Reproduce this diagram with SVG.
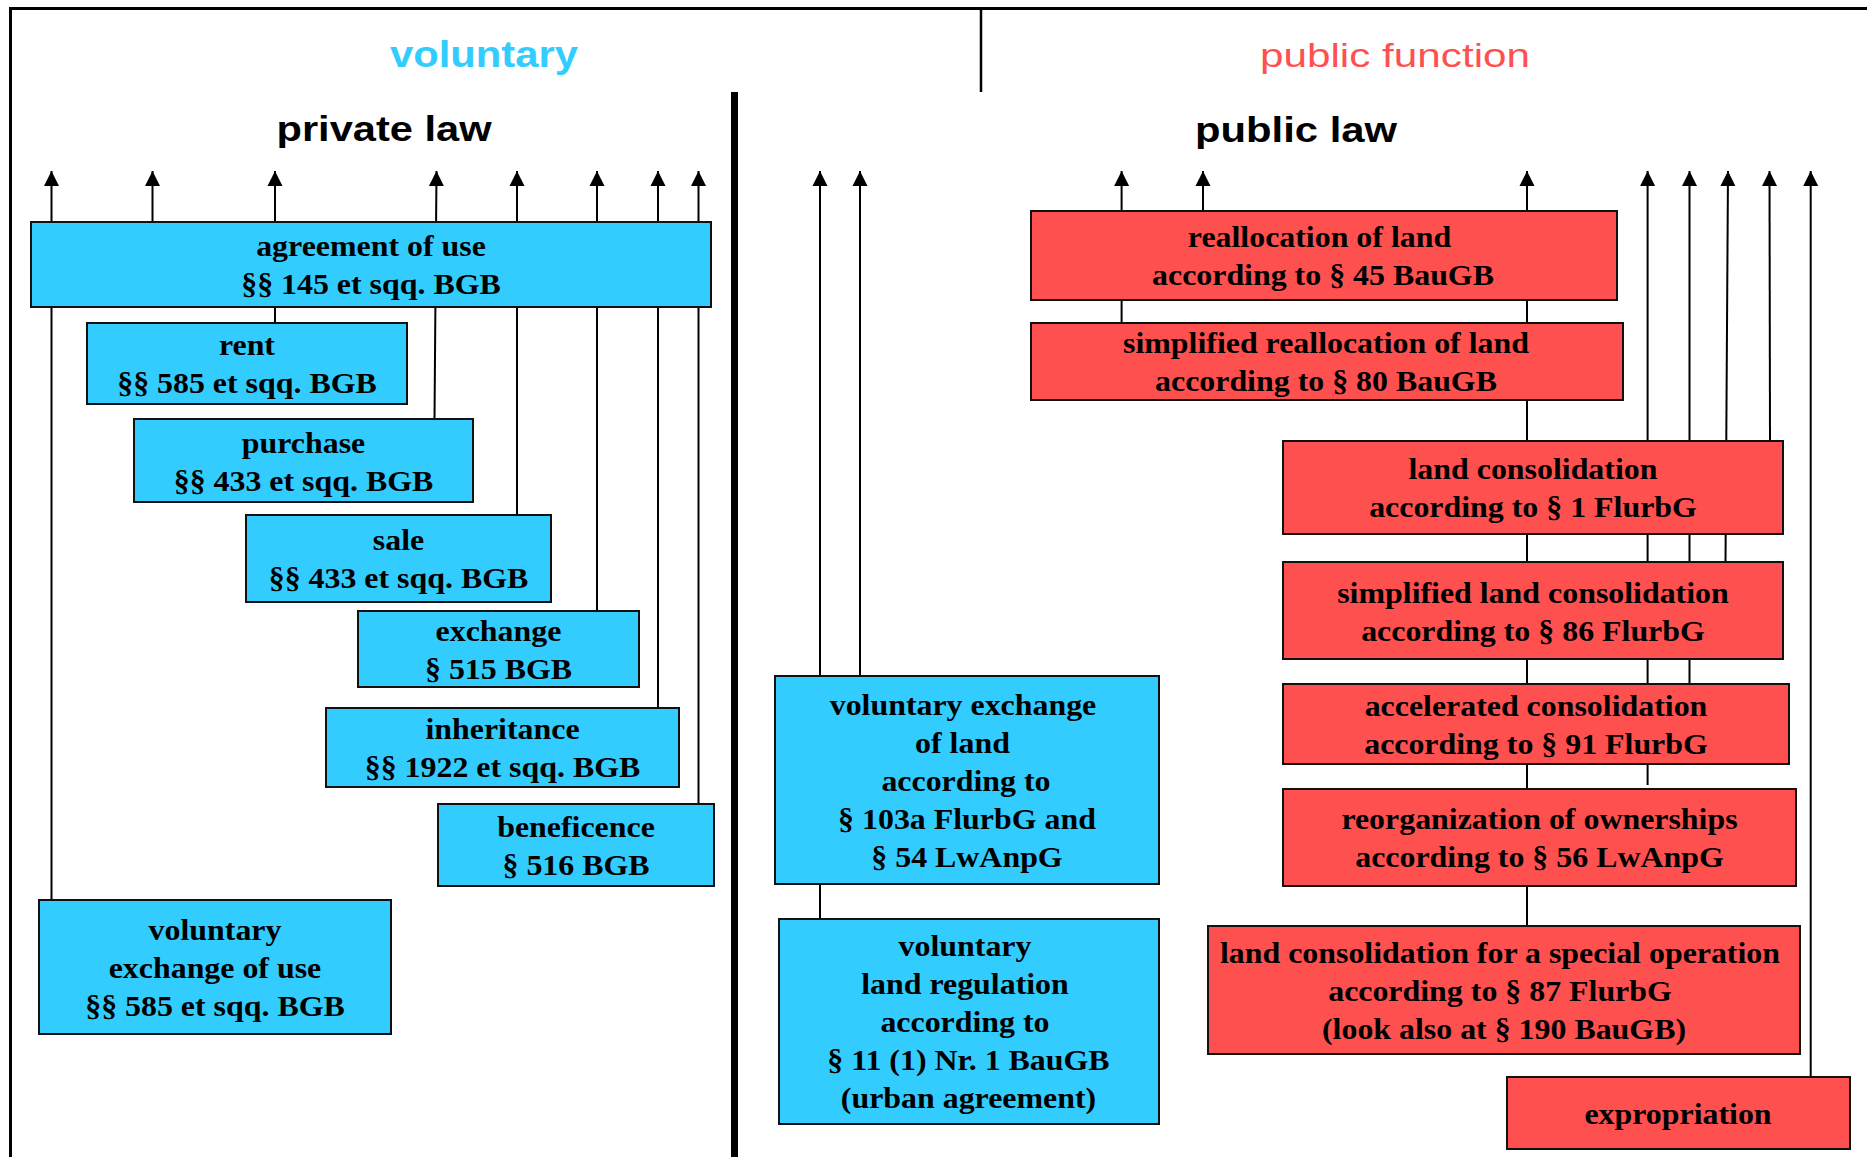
<svg xmlns="http://www.w3.org/2000/svg" width="1867" height="1157" viewBox="0 0 1867 1157">
<style>
.bg{fill:#ffffff}
.frame{fill:none;stroke:#000;stroke-width:3}
.div{fill:none;stroke:#000;stroke-width:2.5}
.thick{fill:none;stroke:#000;stroke-width:7}
.c{fill:none;stroke:#000;stroke-width:2;marker-end:url(#arr)}
.s{fill:none;stroke:#000;stroke-width:2}
.blue rect{fill:#33CCFF;stroke:#111;stroke-width:2}
.red rect{fill:#FF5050;stroke:#111;stroke-width:2}
.node text{font-family:"Liberation Serif","Times New Roman",serif;font-weight:bold;font-size:29px;text-anchor:middle;fill:#000;transform-box:fill-box;transform-origin:center;transform:scaleX(1.1)}
.title{font-family:"Liberation Sans",Arial,sans-serif;text-anchor:middle}
</style>
<defs>
<marker id="arr" markerUnits="userSpaceOnUse" markerWidth="16" markerHeight="16" viewBox="0 0 16 16" refX="15" refY="8" orient="auto">
<path d="M0,0.5 L15,8 L0,15.5 z" fill="#000"/>
</marker>
</defs>
<rect class="bg" x="0" y="0" width="1867" height="1157"/>
<g id="frame">
<path class="frame" d="M10.5,1157 V8.5 H1867"/>
<path class="div" d="M981,8.5 V92"/>
<path class="thick" d="M734.5,92 V1157"/>
</g>
<g id="titles">
<text class="title" x="484" y="66.7" font-size="36" font-weight="bold" fill="#33CCFF" textLength="188" lengthAdjust="spacingAndGlyphs">voluntary</text>
<text class="title" x="1395" y="67" font-size="34" fill="#FF5050" textLength="270" lengthAdjust="spacingAndGlyphs">public function</text>
<text class="title" x="384" y="141" font-size="35" font-weight="bold" fill="#000" textLength="215" lengthAdjust="spacingAndGlyphs">private law</text>
<text class="title" x="1296" y="141.5" font-size="35" font-weight="bold" fill="#000" textLength="202" lengthAdjust="spacingAndGlyphs">public law</text>
</g>
<g id="connectors">
<line class="c" x1="51.5" y1="900" x2="51.5" y2="171"/>
<line class="c" x1="152.5" y1="222" x2="152.5" y2="171"/>
<line class="c" x1="275" y1="323" x2="275" y2="171"/>
<line class="c" x1="434.5" y1="419" x2="436.5" y2="171"/>
<line class="c" x1="517" y1="515" x2="517" y2="171"/>
<line class="c" x1="597" y1="611" x2="597" y2="171"/>
<line class="c" x1="658" y1="708" x2="658" y2="171"/>
<line class="c" x1="698.5" y1="804" x2="698.5" y2="171"/>
<line class="c" x1="820" y1="919" x2="820" y2="171"/>
<line class="c" x1="860" y1="676" x2="860" y2="171"/>
<line class="c" x1="1121.6" y1="323" x2="1121.6" y2="171"/>
<line class="c" x1="1203" y1="211" x2="1203" y2="171"/>
<line class="c" x1="1527" y1="926" x2="1527" y2="171"/>
<line class="c" x1="1647.6" y1="785" x2="1647.6" y2="171"/>
<line class="c" x1="1689.5" y1="684" x2="1689.5" y2="171"/>
<line class="c" x1="1725.5" y1="562" x2="1728" y2="171"/>
<line class="c" x1="1770" y1="441" x2="1769.5" y2="171"/>
<line class="c" x1="1810.7" y1="1077" x2="1810.7" y2="171"/>
</g>
<g id="n-agreement" class="node blue">
<rect x="31" y="222" width="680" height="85"/>
<text x="371" y="256.5">agreement of use</text>
<text x="371" y="294.5">§§ 145 et sqq. BGB</text>
</g>
<g id="n-rent" class="node blue">
<rect x="87" y="323" width="320" height="81"/>
<text x="247" y="355.5">rent</text>
<text x="247" y="393.5">§§ 585 et sqq. BGB</text>
</g>
<g id="n-purchase" class="node blue">
<rect x="134" y="419" width="339" height="83"/>
<text x="303.5" y="453">purchase</text>
<text x="303.5" y="491">§§ 433 et sqq. BGB</text>
</g>
<g id="n-sale" class="node blue">
<rect x="246" y="515" width="305" height="87"/>
<text x="398.5" y="550.5">sale</text>
<text x="398.5" y="588.5">§§ 433 et sqq. BGB</text>
</g>
<g id="n-exchange" class="node blue">
<rect x="358" y="611" width="281" height="76"/>
<text x="498.5" y="641">exchange</text>
<text x="498.5" y="679">§ 515 BGB</text>
</g>
<g id="n-inheritance" class="node blue">
<rect x="326" y="708" width="353" height="79"/>
<text x="502.5" y="739.5">inheritance</text>
<text x="502.5" y="777.5">§§ 1922 et sqq. BGB</text>
</g>
<g id="n-beneficence" class="node blue">
<rect x="438" y="804" width="276" height="82"/>
<text x="576" y="837">beneficence</text>
<text x="576" y="875">§ 516 BGB</text>
</g>
<g id="n-vol-exchange-use" class="node blue">
<rect x="39" y="900" width="352" height="134"/>
<text x="215" y="940">voluntary</text>
<text x="215" y="978">exchange of use</text>
<text x="215" y="1016">§§ 585 et sqq. BGB</text>
</g>
<g id="n-vol-exchange-land" class="node blue">
<rect x="775" y="676" width="384" height="208"/>
<text x="963" y="715">voluntary exchange</text>
<text x="962.5" y="753">of land</text>
<text x="966" y="791">according to</text>
<text x="967" y="829">§ 103a FlurbG and</text>
<text x="967" y="867">§ 54 LwAnpG</text>
</g>
<g id="n-vol-land-regulation" class="node blue">
<rect x="779" y="919" width="380" height="205"/>
<text x="965" y="956.5">voluntary</text>
<text x="965" y="994.5">land regulation</text>
<text x="965" y="1032.5">according to</text>
<text x="968.5" y="1070.5">§ 11 (1) Nr. 1 BauGB</text>
<text x="968.5" y="1108.5">(urban agreement)</text>
</g>
<g id="n-reallocation" class="node red">
<rect x="1031" y="211" width="586" height="89"/>
<text x="1319.5" y="247.5">reallocation of land</text>
<text x="1323" y="285.5">according to § 45 BauGB</text>
</g>
<g id="n-simplified-reallocation" class="node red">
<rect x="1031" y="323" width="592" height="77"/>
<text x="1326" y="353.5">simplified reallocation of land</text>
<text x="1326" y="391.5">according to § 80 BauGB</text>
</g>
<g id="n-land-consolidation" class="node red">
<rect x="1283" y="441" width="500" height="93"/>
<text x="1533" y="479.5">land consolidation</text>
<text x="1533" y="517.5">according to § 1 FlurbG</text>
</g>
<g id="n-simplified-land-consolidation" class="node red">
<rect x="1283" y="562" width="500" height="97"/>
<text x="1533" y="603">simplified land consolidation</text>
<text x="1533" y="641">according to § 86 FlurbG</text>
</g>
<g id="n-accelerated" class="node red">
<rect x="1283" y="684" width="506" height="80"/>
<text x="1536" y="716">accelerated consolidation</text>
<text x="1536" y="754">according to § 91 FlurbG</text>
</g>
<g id="n-reorganization" class="node red">
<rect x="1283" y="789" width="513" height="97"/>
<text x="1539.5" y="829.5">reorganization of ownerships</text>
<text x="1539.5" y="867.5">according to § 56 LwAnpG</text>
</g>
<g id="n-special-operation" class="node red">
<rect x="1208" y="926" width="592" height="128"/>
<text x="1500" y="963">land consolidation for a special operation</text>
<text x="1500" y="1001">according to § 87 FlurbG</text>
<text x="1504" y="1039">(look also at § 190 BauGB)</text>
</g>
<g id="n-expropriation" class="node red">
<rect x="1507" y="1077" width="343" height="72"/>
<text x="1678" y="1124">expropriation</text>
</g>
</svg>
